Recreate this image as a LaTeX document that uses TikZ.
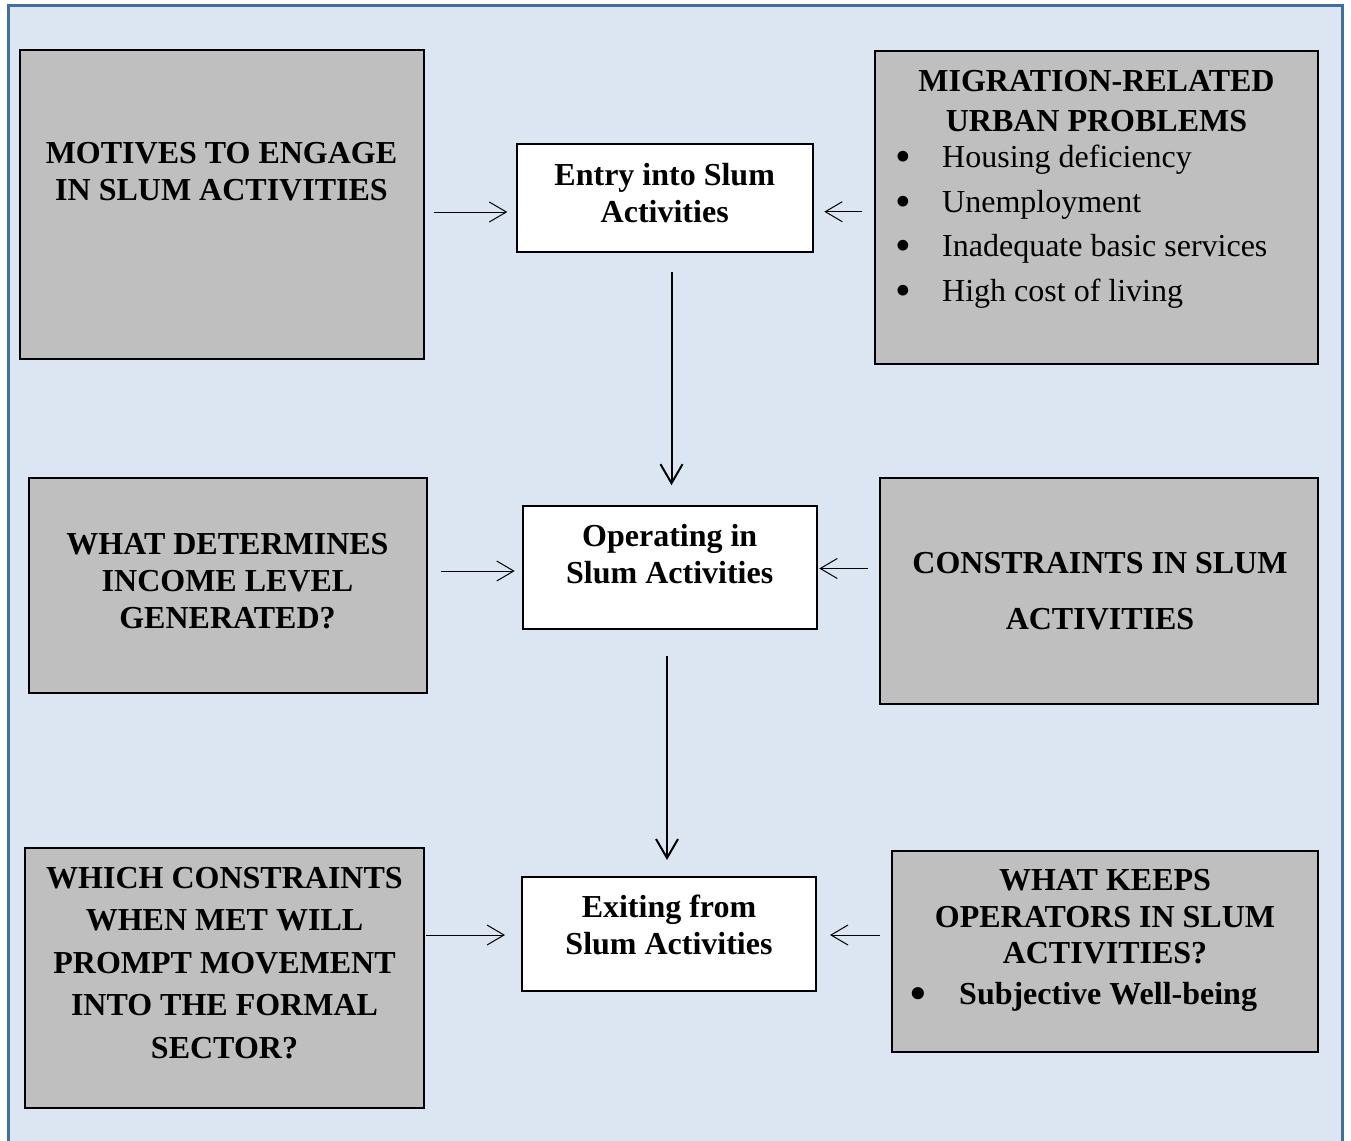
\documentclass[tikz,border=0pt]{standalone}
\usepackage{fontspec}
\setmainfont{Liberation Serif}
\usepackage{graphicx}
\usepackage{tikz}
\usetikzlibrary{arrows.meta,positioning}
\definecolor{framefill}{HTML}{DCE6F2}
\definecolor{frameblue}{HTML}{41709F}
\definecolor{boxgray}{HTML}{BFBFBF}
\newcommand{\bul}{\makebox[47pt][l]{\raisebox{-4pt}{\scalebox{1.4}{\textbullet}}}}

\begin{document}
\begin{tikzpicture}[x=1pt, y=-1pt,
  graybox/.style={draw, line width=2pt, fill=boxgray, inner sep=0pt},
  whitebox/.style={draw, line width=2pt, fill=white, inner sep=0pt},
  headtxt/.style={font=\bfseries\fontsize{32}{#1}\selectfont, align=center, inner sep=0pt},
  headtxt/.default=37,
  listtxt/.style={font=\fontsize{32}{44.5}\selectfont, align=left, inner sep=0pt},
  hlink/.style={-{Straight Barb[length=17pt,width=20pt]}, line width=1pt},
  vlink/.style={-{Straight Barb[length=19pt,width=22pt]}, line width=2pt}
]
\useasboundingbox (0,0) rectangle (1351,1140);
\draw[line width=3pt, draw=frameblue, fill=framefill] (8,6) rectangle (1342,1150);

% boxes
\node[graybox, minimum width=404, minimum height=309] (mot) at (222,204.5) {};
\node[whitebox, minimum width=296, minimum height=108] (ent) at (664.7,198) {};
\node[graybox, minimum width=443, minimum height=313] (mig) at (1096.5,207.5) {};
\node[graybox, minimum width=398, minimum height=215] (det) at (227.6,585.5) {};
\node[whitebox, minimum width=294, minimum height=123] (op) at (669.7,567.7) {};
\node[graybox, minimum width=438, minimum height=226] (con) at (1099,591) {};
\node[graybox, minimum width=399, minimum height=260] (whc) at (224.5,978) {};
\node[whitebox, minimum width=294, minimum height=114] (ex) at (669,934) {};
\node[graybox, minimum width=426, minimum height=201] (kee) at (1105,951.5) {};

% texts
\node[headtxt] (mott) at (221.5,171.5) {MOTIVES TO ENGAGE\\IN SLUM ACTIVITIES};
\node[headtxt=37.4] (entt) at (664.7,193.3) {Entry into Slum\\Activities};
\node[headtxt=40] (migt) at (1096.5,101) {MIGRATION-RELATED\\URBAN PROBLEMS};
\node[listtxt, anchor=north west] (migl) at (895,136.2)
  {\strut\bul Housing deficiency\\\bul Unemployment\\\bul Inadequate basic services\\\bul High cost of living};
\node[headtxt=36.7] (dett) at (227.5,581) {WHAT DETERMINES\\INCOME LEVEL\\GENERATED?};
\node[headtxt=36.6] (opt) at (669.7,554) {Operating in\\Slum Activities};
\node[headtxt=55.3] (cont) at (1100,591) {CONSTRAINTS IN SLUM\\ACTIVITIES};
\node[headtxt=42.5] (whct) at (224.5,963) {WHICH CONSTRAINTS\\WHEN MET WILL\\PROMPT MOVEMENT\\INTO THE FORMAL\\SECTOR?};
\node[headtxt] (ext) at (669,925) {Exiting from\\Slum Activities};
\node[headtxt=36.5] (keet) at (1105,917) {WHAT KEEPS\\OPERATORS IN SLUM\\ACTIVITIES?};
\node[headtxt, anchor=base west] (keel) at (910,1004) {\makebox[49pt][l]{\raisebox{-4pt}{\scalebox{1.4}{\textbullet}}}Subjective Well-being};

% arrows
\draw[hlink, shorten <=8.7pt, shorten >=8.4pt] ([yshift=-7.5pt]mot.east) -- ([yshift=-14pt]ent.west);
\draw[hlink, shorten <=11.7pt, shorten >=10.6pt] ([yshift=-4.2pt]mig.west) -- ([yshift=-13.7pt]ent.east);
\draw[vlink, shorten <=19pt, shorten >=20pt] ([xshift=6.8pt]ent.south) -- ([xshift=1.8pt]op.north);
\draw[hlink, shorten <=13pt, shorten >=7pt] ([yshift=14.5pt]det.east) -- ([yshift=-3.3pt]op.west);
\draw[hlink, shorten <=11pt, shorten >=1.6pt] ([yshift=22.5pt]con.west) -- ([yshift=-0.8pt]op.east);
\draw[vlink, shorten <=26pt, shorten >=16pt] ([xshift=-2.7pt]op.south) -- ([xshift=-2pt]ex.north);
\draw[hlink, shorten <=0.5pt, shorten >=16pt] ([yshift=43pt]whc.east) -- ([yshift=-1pt]ex.west);
\draw[hlink, shorten <=11pt, shorten >=13pt] ([yshift=16.5pt]kee.west) -- ([yshift=-1pt]ex.east);
\end{tikzpicture}
\end{document}
